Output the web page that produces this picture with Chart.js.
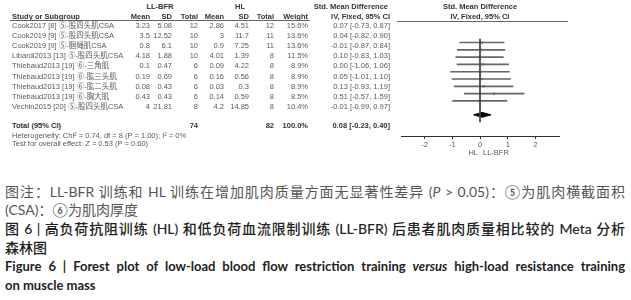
<!DOCTYPE html>
<html>
<head>
<meta charset="utf-8">
<script src="https://cdn.jsdelivr.net/npm/chart.js@4"></script>
<style>
  html, body { margin: 0; padding: 0; background: #fff; }
  #wrap { position: relative; width: 631px; height: 300px; overflow: hidden; background: #fff; }
  .c { position: absolute; font-family: "Liberation Sans", Arial, "Noto Sans CJK SC", sans-serif; font-size: 7.5px; line-height: 10px; color: #5a5a5a; white-space: nowrap; }
  .b { font-weight: bold; color: #333; }
  .rule { position: absolute; height: 0; border-top: 1px solid #666; }
  .cap { position: absolute; left: 5px; width: 620px; line-height: 19px; white-space: nowrap;
         font-family: Lato, "Noto Sans CJK SC", sans-serif; }
  .just { text-align: justify; text-align-last: justify; }
  #forest { position: absolute; left: 397px; top: 21px; }
</style>
</head>
<body>
<div id="wrap">
  <canvas id="forest" width="166" height="135"></canvas>
</div>
<script>
// Study rows
const studies = [
  'Cook2017 [8] ⑤-股四头肌CSA',
  'Cook2019 [9] ⑤-股四头肌CSA',
  'Cook2019 [9] ⑤-腘绳肌CSA',
  'Libardi2013 [13] ⑤-股四头肌CSA',
  'Thiebaud2013 [19] ⑥-三角肌',
  'Thiebaud2013 [19] ⑥-肱三头肌',
  'Thiebaud2013 [19] ⑥-肱二头肌',
  'Thiebaud2013 [19] ⑥-胸大肌',
  'Vechin2015 [20] ⑤-股四头肌CSA'
];
const bfrMean = [3.23, 3.5, 0.8, 4.18, 0.1, 0.19, 0.08, 0.43, 4];
const bfrSD = [5.08, 12.52, 6.1, 1.88, 0.47, 0.69, 0.43, 0.43, 21.81];
const bfrN = [12, 10, 10, 10, 6, 6, 6, 6, 8];
const hlMean = [2.86, 3, 0.9, 4.01, 0.09, 0.16, 0.03, 0.14, 4.2];
const hlSD = [4.51, 11.7, 7.25, 1.39, 4.22, 0.56, 0.3, 0.59, 14.85];
const hlN = [12, 11, 11, 8, 8, 8, 8, 8, 8];
const weights = [15.6, 13.6, 13.6, 11.5, 8.9, 8.9, 8.9, 8.5, 10.4];
const smd = [0.07, 0.04, -0.01, 0.10, 0.00, 0.05, 0.13, 0.51, -0.01];
const ciLow = [-0.73, -0.82, -0.87, -0.83, -1.06, -1.01, -0.93, -0.57, -0.99];
const ciHigh = [0.87, 0.90, 0.84, 1.03, 1.06, 1.10, 1.19, 1.59, 0.97];

// Pooled result
const totalBfrN = 74;
const totalHlN = 82;
const totalSmd = 0.08;
const totalLow = -0.23;
const totalHigh = 0.40;

const xTicks = [-2, -1, 0, 1, 2];

// row layout (pixels inside the page)
const rowTop = 21, rowStep = 10.1;
const totalRow = 10.4, yMax = 11.4;

const wrap = document.getElementById('wrap');
function cell(text, x, y, align, cls) {
  const d = document.createElement('div');
  d.className = 'c' + (cls ? ' ' + cls : '');
  d.textContent = text;
  d.style.top = (y - 5) + 'px';
  if (align === 'right') d.style.right = (631 - x) + 'px';
  else if (align === 'center') { d.style.left = (x - 50) + 'px'; d.style.width = '100px'; d.style.textAlign = 'center'; }
  else d.style.left = x + 'px';
  wrap.appendChild(d);
}
function rule(x1, x2, y) {
  const d = document.createElement('div');
  d.className = 'rule';
  d.style.left = x1 + 'px'; d.style.width = (x2 - x1) + 'px'; d.style.top = y + 'px';
  wrap.appendChild(d);
}

// column right edges
const col = { name: 12, bm: 150, bs: 172, bn: 198, hm: 224, hs: 249, hn: 274, w: 308, ci: 390 };

// headers
cell('LL-BFR', 160, 7, 'center', 'b');
cell('HL', 240, 7, 'center', 'b');
cell('Std. Mean Difference', 388, 7, 'right', 'b');
cell('Std. Mean Difference', 480, 7, 'center', 'b');
cell('Study or Subgroup', col.name, 17, 'left', 'b');
cell('Mean', col.bm, 17, 'right', 'b');
cell('SD', col.bs, 17, 'right', 'b');
cell('Total', col.bn, 17, 'right', 'b');
cell('Mean', col.hm, 17, 'right', 'b');
cell('SD', col.hs, 17, 'right', 'b');
cell('Total', col.hn, 17, 'right', 'b');
cell('Weight', col.w, 17, 'right', 'b');
cell('IV, Fixed, 95% CI', col.ci, 17, 'right', 'b');
cell('IV, Fixed, 95% CI', 480, 17, 'center', 'b');
rule(10, 310, 20);
rule(397, 568, 21);

// study rows
studies.forEach((s, i) => {
  const y = rowTop + (i + 0.5) * rowStep;
  cell(s, col.name, y, 'left');
  cell(String(bfrMean[i]), col.bm, y, 'right');
  cell(String(bfrSD[i]), col.bs, y, 'right');
  cell(String(bfrN[i]), col.bn, y, 'right');
  cell(String(hlMean[i]), col.hm, y, 'right');
  cell(String(hlSD[i]), col.hs, y, 'right');
  cell(String(hlN[i]), col.hn, y, 'right');
  cell(weights[i].toFixed(1) + '%', col.w, y, 'right');
  cell(smd[i].toFixed(2) + ' [' + ciLow[i].toFixed(2) + ', ' + ciHigh[i].toFixed(2) + ']', col.ci, y, 'right');
});

// total rows
const yT = rowTop + totalRow * rowStep;
cell('Total (95% CI)', col.name, yT, 'left', 'b');
cell(String(totalBfrN), col.bn, yT, 'right', 'b');
cell(String(totalHlN), col.hn, yT, 'right', 'b');
cell('100.0%', col.w, yT, 'right', 'b');
cell(totalSmd.toFixed(2) + ' [' + totalLow.toFixed(2) + ', ' + totalHigh.toFixed(2) + ']', col.ci, yT, 'right', 'b');
cell('Heterogeneity: Chi² = 0.74, df = 8 (P = 1.00); I² = 0%', col.name, yT + 10, 'left');
cell('Test for overall effect: Z = 0.53 (P = 0.60)', col.name, yT + 18, 'left');
cell('HL', 478, 153, 'right');
cell('LL-BFR', 483, 153, 'left');

// captions
const caps = [
  { t: '图注：LL-BFR 训练和 HL 训练在增加肌肉质量方面无显著性差异 (<i>P</i> &gt; 0.05)：⑤为肌肉横截面积', j: true, color: '#555', w: 400, size: 14 },
  { t: '(CSA)：⑥为肌肉厚度', j: false, color: '#555', w: 400, size: 14 },
  { t: '图 6 | 高负荷抗阻训练 (HL) 和低负荷血流限制训练 (LL-BFR) 后患者肌肉质量相比较的 Meta 分析', j: true, color: '#222', w: 500, size: 14 },
  { t: '森林图', j: false, color: '#222', w: 500, size: 14 },
  { t: 'Figure 6 | Forest plot of low-load blood flow restriction training <i>versus</i> high-load resistance training', j: true, color: '#222', w: 700, size: 13 },
  { t: 'on muscle mass', j: false, color: '#222', w: 700, size: 13 }
];
caps.forEach((c, i) => {
  const d = document.createElement('div');
  d.className = 'cap' + (c.j ? ' just' : '');
  d.innerHTML = c.t;
  d.style.top = (181.5 + i * 18.8) + 'px';
  d.style.color = c.color;
  d.style.fontWeight = c.w;
  d.style.fontSize = c.size + 'px';
  wrap.appendChild(d);
});

// forest plot
const rowsY = studies.map((s, i) => i + 0.5);
const dh = 0.33;
new Chart(document.getElementById('forest'), {
  type: 'scatter',
  data: {
    datasets: [
      {
        type: 'line',
        data: [{ x: 0, y: 0 }, { x: 0, y: yMax }],
        borderColor: '#444',
        borderWidth: 1,
        pointRadius: 0,
        fill: false
      },
      {
        type: 'bar',
        indexAxis: 'y',
        data: studies.map((s, i) => ({ y: rowsY[i], x: [ciLow[i], ciHigh[i]] })),
        backgroundColor: '#666',
        barThickness: 1,
        borderWidth: 0
      },
      {
        data: studies.map((s, i) => ({ x: smd[i], y: rowsY[i] })),
        pointStyle: 'rect',
        pointRadius: 1.6,
        backgroundColor: '#2e9e2e',
        borderWidth: 0
      },
      {
        type: 'line',
        data: [
          { x: totalLow, y: totalRow },
          { x: totalSmd, y: totalRow - dh },
          { x: totalHigh, y: totalRow },
          { x: totalSmd, y: totalRow + dh },
          { x: totalLow, y: totalRow }
        ],
        borderColor: '#000',
        backgroundColor: '#000',
        borderWidth: 1,
        pointRadius: 0,
        fill: 'shape'
      }
    ]
  },
  options: {
    responsive: false,
    animation: false,
    layout: { padding: 0 },
    plugins: { legend: { display: false }, tooltip: { enabled: false } },
    scales: {
      x: {
        type: 'linear',
        min: -2.85,
        max: 2.85,
        afterBuildTicks: s => { s.ticks = xTicks.map(v => ({ value: v })); },
        afterFit: s => { s.height = 20; },
        grid: { drawOnChartArea: false, drawTicks: true, tickLength: 3, color: '#333' },
        border: { display: true, color: '#333' },
        ticks: { font: { family: 'Liberation Sans', size: 7.5 }, color: '#555', padding: 1 }
      },
      y: {
        type: 'linear',
        reverse: true,
        min: 0,
        max: yMax,
        display: false
      }
    }
  }
});
</script>
</body>
</html>
